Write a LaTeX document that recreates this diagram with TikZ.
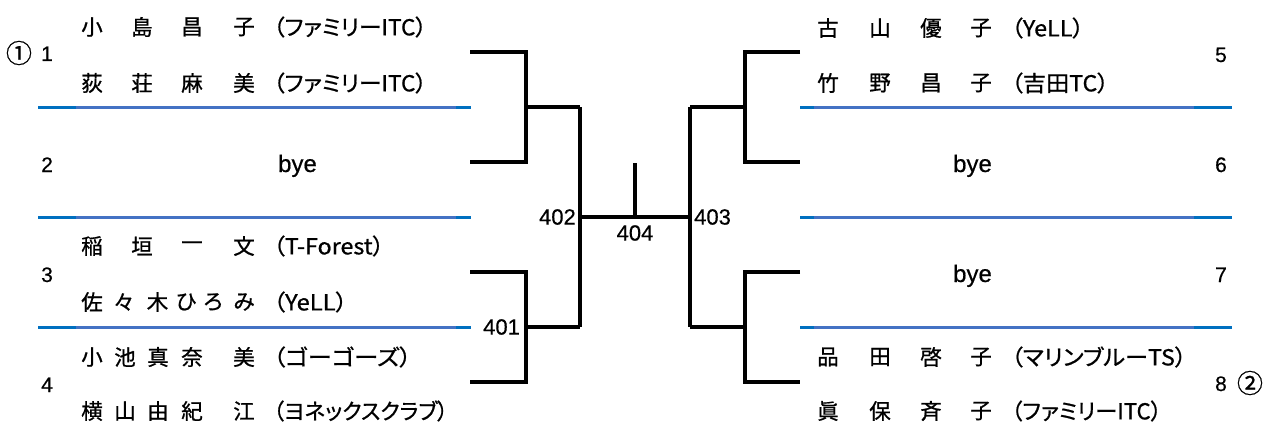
\documentclass[tikz,border=0pt]{standalone}
\usepackage{graphicx}
\usepackage{fontspec}
\setmainfont[FakeBold=0.5]{Liberation Sans}
\newfontfamily\jp[RawFeature=+palt,FakeBold=0.8]{Noto Sans CJK JP}
\newcommand\hsc[2]{\scalebox{#1}[1]{#2}}
\definecolor{sepblue}{HTML}{4472C4}
\definecolor{sepdark}{HTML}{0070C0}
\begin{document}
\begin{tikzpicture}[x=1pt,y=-1pt,
  br/.style={line width=3.1pt, black},
  sepmain/.style={line width=3pt, draw=sepblue},
  sepend/.style={line width=3pt, draw=sepdark},
  nm/.style={font=\jp\fontsize{21.5}{21.5}\selectfont, inner sep=0pt, anchor=center},
  club/.style={font=\jp\fontsize{22}{22}\selectfont, inner sep=0pt, anchor=west},
  num/.style={font=\fontsize{21}{21}\selectfont, inner sep=0pt, anchor=base west},
  rnum/.style={font=\fontsize{21}{21}\selectfont, inner sep=0pt, anchor=base east},
  rnd/.style={font=\fontsize{22}{22}\selectfont, inner sep=0pt},
  byetxt/.style={font=\fontsize{24}{24}\selectfont, inner sep=0pt, anchor=base},
  circ/.style={font=\jp\fontsize{26}{26}\selectfont, inner sep=0pt, anchor=center}]
\useasboundingbox (0,0) rectangle (1275,436);

% separators
\foreach \y [count=\i] in {107,217,327}{
  \coordinate (la\i) at (38,\y); \coordinate (lb\i) at (76,\y);
  \coordinate (lc\i) at (456,\y); \coordinate (ld\i) at (471,\y);
  \draw[sepmain] (lb\i) -- (lc\i);
  \draw[sepend] (la\i) -- (lb\i);
  \draw[sepend] (lc\i) -- (ld\i);
  \coordinate (ra\i) at (800,\y); \coordinate (rb\i) at (814,\y);
  \coordinate (rc\i) at (1194,\y); \coordinate (rd\i) at (1232,\y);
  \draw[sepmain] (rb\i) -- (rc\i);
  \draw[sepend] (ra\i) -- (rb\i);
  \draw[sepend] (rc\i) -- (rd\i);
}

% bracket coordinates
\coordinate (e1) at (470,52);  \coordinate (e2) at (470,162);
\coordinate (e3) at (470,272); \coordinate (e4) at (470,382);
\coordinate (e5) at (800,52);  \coordinate (e6) at (800,162);
\coordinate (e7) at (800,272); \coordinate (e8) at (800,382);
\coordinate (m402) at (580,107); \coordinate (m401) at (580,327);
\coordinate (m403a) at (690,107); \coordinate (m403b) at (690,327);
\coordinate (c402) at (580,217); \coordinate (c403) at (690,217);
\coordinate (top) at (635,163); \coordinate (mid) at (635,217);

\draw[br] (e1) -| (526,162) -- (e2);
\draw[br] (526,107) -- (m402);
\draw[br] (e3) -| (526,382) -- (e4);
\draw[br] (526,327) -- (m401);
\draw[br] (m402) -- (m401);
\draw[br] (c402) -- (c403);
\draw[br] (mid) -- (top);
\draw[br] (m403a) -- (m403b);
\draw[br] (m403a) -- (745,107);
\draw[br] (m403b) -- (745,327);
\draw[br] (e5) -| (745,162) -- (e6);
\draw[br] (e7) -| (745,382) -- (e8);

% round labels
\node[rnd, anchor=east] (t402) at (576,217) {402};
\node[rnd] (t404) at (635,233) {404};
\node[rnd, anchor=west] (t403) at (694,217) {403};
\node[rnd, anchor=west] (t401) at (483,327) {401};

% entry numbers
\node[circ] (c1) at (19,53) {①};
\node[num] (n1) at (41,61) {1};
\node[num] (n2) at (41,172) {2};
\node[num] (n3) at (41,282) {3};
\node[num] (n4) at (41,392) {4};
\node[rnum] (n5) at (1227,62) {5};
\node[rnum] (n6) at (1227,172) {6};
\node[rnum] (n7) at (1227,282) {7};
\node[rnum] (n8) at (1227,391) {8};
\node[circ] (c2) at (1250,383) {②};

% byes
\node[byetxt] (bye2) at (297.5,172) {bye};
\node[byetxt] (bye6) at (972.5,172) {bye};
\node[byetxt] (bye7) at (972.5,282) {bye};

% names left
\foreach \c/\x [count=\i] in {小/92,島/142,昌/192,子/244}
  \node[nm] (p1a\i) at (\x,27) {\c};
\foreach \c/\x [count=\i] in {荻/92,荘/142,麻/192,美/244}
  \node[nm] (p1b\i) at (\x,83) {\c};
\foreach \c/\x [count=\i] in {稲/92,垣/142,一/192,文/244}
  \node[nm] (p3a\i) at (\x,246) {\c};
\foreach \c/\x [count=\i] in {佐/92,々/123.5,木/157.5,ひ/186,ろ/213,み/244}
  \node[nm] (p3b\i) at (\x,302) {\c};
\foreach \c/\x [count=\i] in {小/92,池/125,真/158,奈/192,美/244}
  \node[nm] (p4a\i) at (\x,357) {\c};
\foreach \c/\x [count=\i] in {横/92,山/125,由/158,紀/192,江/244}
  \node[nm] (p4b\i) at (\x,411) {\c};
% names right
\foreach \c/\x [count=\i] in {古/828,山/880,優/931,子/981}
  \node[nm] (p5a\i) at (\x,28) {\c};
\foreach \c/\x [count=\i] in {竹/828,野/880,昌/931,子/981}
  \node[nm] (p5b\i) at (\x,83) {\c};
\foreach \c/\x [count=\i] in {品/828,田/880,啓/931,子/981}
  \node[nm] (p8a\i) at (\x,357) {\c};
\foreach \c/\x [count=\i] in {眞/828,保/880,斉/931,子/981}
  \node[nm] (p8b\i) at (\x,411) {\c};

% clubs
\node[club] (k1a) at (273,27) {\hsc{1.03}{（ファミリーITC）}};
\node[club] (k1b) at (273,83) {\hsc{1.03}{（ファミリーITC）}};
\node[club] (k3a) at (273,246) {\hsc{1.06}{（T-Forest）}};
\node[club] (k3b) at (273,302) {\hsc{1.08}{（YeLL）}};
\node[club] (k4a) at (273,357) {\hsc{1.10}{（ゴーゴーズ）}};
\node[club] (k4b) at (273,411) {\hsc{0.98}{（ヨネックスクラブ）}};
\node[club] (k5a) at (1011,28) {\hsc{1.06}{（YeLL）}};
\node[club] (k5b) at (1011,83) {\hsc{1.055}{（吉田TC）}};
\node[club] (k8a) at (1011,357) {\hsc{1.06}{（マリンブルーTS）}};
\node[club] (k8b) at (1011,411) {\hsc{1.01}{（ファミリーITC）}};
\end{tikzpicture}
\end{document}
